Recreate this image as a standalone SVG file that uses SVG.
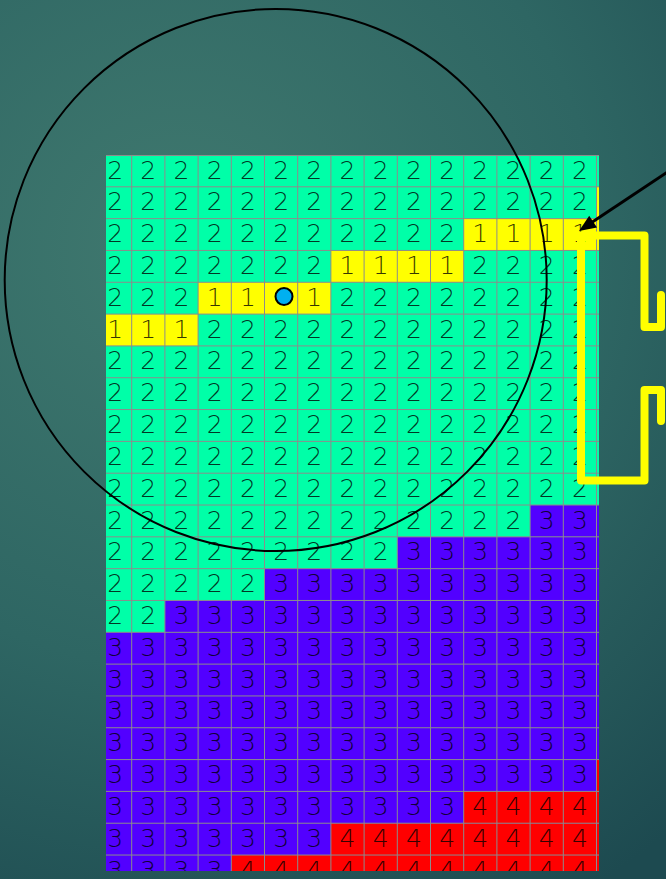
<svg xmlns="http://www.w3.org/2000/svg" width="666" height="879" viewBox="0 0 666 879">
<defs>
<radialGradient id="bg" cx="180" cy="250" r="760" gradientUnits="userSpaceOnUse">
<stop offset="0" stop-color="#40796f"/>
<stop offset="0.55" stop-color="#2e6663"/>
<stop offset="1" stop-color="#1d4a50"/>
</radialGradient>
<clipPath id="gc"><rect x="106" y="155" width="493" height="716"/></clipPath>
</defs>
<style>
.d{font-family:"DejaVu Sans ExtraLight","DejaVu Sans",sans-serif;font-weight:200;font-size:25px;text-anchor:middle;fill:#000;fill-opacity:.8}
.g{fill:#00ffa8}.y{fill:#ffff00}.b{fill:#5200ff}.r{fill:#ff0000}
.gl{stroke:#8c8c8c;stroke-width:1;fill:none}
</style>
<rect width="666" height="879" fill="url(#bg)"/>
<g id="grid" clip-path="url(#gc)">
<g id="fills">
<rect class="g" x="98" y="155" width="505" height="477.3"/>
<rect class="b" x="98" y="632.3" width="505" height="240"/>
<rect class="y" x="596.5" y="186.82" width="8" height="31.82"/>
<rect class="y" x="463.7" y="218.64" width="140" height="31.82"/>
<rect class="y" x="330.9" y="250.46" width="132.8" height="31.82"/>
<rect class="y" x="198.1" y="282.28" width="132.8" height="31.82"/>
<rect class="y" x="98" y="314.1" width="100.1" height="31.82"/>
<rect class="b" x="530.1" y="505.02" width="80" height="31.82"/>
<rect class="b" x="397.3" y="536.84" width="210" height="31.82"/>
<rect class="b" x="264.5" y="568.66" width="340" height="31.82"/>
<rect class="b" x="164.9" y="600.48" width="440" height="31.82"/>
<rect class="r" x="596.5" y="759.58" width="8" height="31.82"/>
<rect class="r" x="463.7" y="791.4" width="140" height="31.82"/>
<rect class="r" x="330.9" y="823.22" width="280" height="31.82"/>
<rect class="r" x="231.3" y="855.04" width="380" height="31.82"/>
</g>
<path id="gridlines" class="gl" d="M131.7 155V871M164.9 155V871M198.1 155V871M231.3 155V871M264.5 155V871M297.7 155V871M330.9 155V871M364.1 155V871M397.3 155V871M430.5 155V871M463.7 155V871M496.9 155V871M530.1 155V871M563.3 155V871M596.5 155V871M106 155.5H599M106 186.82H599M106 218.64H599M106 250.46H599M106 282.28H599M106 314.1H599M106 345.92H599M106 377.74H599M106 409.56H599M106 441.38H599M106 473.2H599M106 505.02H599M106 536.84H599M106 568.66H599M106 600.48H599M106 632.3H599M106 664.12H599M106 695.94H599M106 727.76H599M106 759.58H599M106 791.4H599M106 823.22H599M106 855.04H599"/>
<g id="r0" class="d"><text x="115.1" y="178.5">2</text><text x="148.3" y="178.5">2</text><text x="181.5" y="178.5">2</text><text x="214.7" y="178.5">2</text><text x="247.9" y="178.5">2</text><text x="281.1" y="178.5">2</text><text x="314.3" y="178.5">2</text><text x="347.5" y="178.5">2</text><text x="380.7" y="178.5">2</text><text x="413.9" y="178.5">2</text><text x="447.1" y="178.5">2</text><text x="480.3" y="178.5">2</text><text x="513.5" y="178.5">2</text><text x="546.7" y="178.5">2</text><text x="579.9" y="178.5">2</text></g>
<g id="r1" class="d"><text x="115.1" y="210.3">2</text><text x="148.3" y="210.3">2</text><text x="181.5" y="210.3">2</text><text x="214.7" y="210.3">2</text><text x="247.9" y="210.3">2</text><text x="281.1" y="210.3">2</text><text x="314.3" y="210.3">2</text><text x="347.5" y="210.3">2</text><text x="380.7" y="210.3">2</text><text x="413.9" y="210.3">2</text><text x="447.1" y="210.3">2</text><text x="480.3" y="210.3">2</text><text x="513.5" y="210.3">2</text><text x="546.7" y="210.3">2</text><text x="579.9" y="210.3">2</text></g>
<g id="r2" class="d"><text x="115.1" y="242.1">2</text><text x="148.3" y="242.1">2</text><text x="181.5" y="242.1">2</text><text x="214.7" y="242.1">2</text><text x="247.9" y="242.1">2</text><text x="281.1" y="242.1">2</text><text x="314.3" y="242.1">2</text><text x="347.5" y="242.1">2</text><text x="380.7" y="242.1">2</text><text x="413.9" y="242.1">2</text><text x="447.1" y="242.1">2</text><text x="480.3" y="242.1">1</text><text x="513.5" y="242.1">1</text><text x="546.7" y="242.1">1</text><text x="579.9" y="242.1">1</text></g>
<g id="r3" class="d"><text x="115.1" y="274">2</text><text x="148.3" y="274">2</text><text x="181.5" y="274">2</text><text x="214.7" y="274">2</text><text x="247.9" y="274">2</text><text x="281.1" y="274">2</text><text x="314.3" y="274">2</text><text x="347.5" y="274">1</text><text x="380.7" y="274">1</text><text x="413.9" y="274">1</text><text x="447.1" y="274">1</text><text x="480.3" y="274">2</text><text x="513.5" y="274">2</text><text x="546.7" y="274">2</text><text x="579.9" y="274">2</text></g>
<g id="r4" class="d"><text x="115.1" y="305.8">2</text><text x="148.3" y="305.8">2</text><text x="181.5" y="305.8">2</text><text x="214.7" y="305.8">1</text><text x="247.9" y="305.8">1</text><text x="314.3" y="305.8">1</text><text x="347.5" y="305.8">2</text><text x="380.7" y="305.8">2</text><text x="413.9" y="305.8">2</text><text x="447.1" y="305.8">2</text><text x="480.3" y="305.8">2</text><text x="513.5" y="305.8">2</text><text x="546.7" y="305.8">2</text><text x="579.9" y="305.8">2</text></g>
<g id="r5" class="d"><text x="115.1" y="337.6">1</text><text x="148.3" y="337.6">1</text><text x="181.5" y="337.6">1</text><text x="214.7" y="337.6">2</text><text x="247.9" y="337.6">2</text><text x="281.1" y="337.6">2</text><text x="314.3" y="337.6">2</text><text x="347.5" y="337.6">2</text><text x="380.7" y="337.6">2</text><text x="413.9" y="337.6">2</text><text x="447.1" y="337.6">2</text><text x="480.3" y="337.6">2</text><text x="513.5" y="337.6">2</text><text x="546.7" y="337.6">2</text><text x="579.9" y="337.6">2</text></g>
<g id="r6" class="d"><text x="115.1" y="369.4">2</text><text x="148.3" y="369.4">2</text><text x="181.5" y="369.4">2</text><text x="214.7" y="369.4">2</text><text x="247.9" y="369.4">2</text><text x="281.1" y="369.4">2</text><text x="314.3" y="369.4">2</text><text x="347.5" y="369.4">2</text><text x="380.7" y="369.4">2</text><text x="413.9" y="369.4">2</text><text x="447.1" y="369.4">2</text><text x="480.3" y="369.4">2</text><text x="513.5" y="369.4">2</text><text x="546.7" y="369.4">2</text><text x="579.9" y="369.4">2</text></g>
<g id="r7" class="d"><text x="115.1" y="401.2">2</text><text x="148.3" y="401.2">2</text><text x="181.5" y="401.2">2</text><text x="214.7" y="401.2">2</text><text x="247.9" y="401.2">2</text><text x="281.1" y="401.2">2</text><text x="314.3" y="401.2">2</text><text x="347.5" y="401.2">2</text><text x="380.7" y="401.2">2</text><text x="413.9" y="401.2">2</text><text x="447.1" y="401.2">2</text><text x="480.3" y="401.2">2</text><text x="513.5" y="401.2">2</text><text x="546.7" y="401.2">2</text><text x="579.9" y="401.2">2</text></g>
<g id="r8" class="d"><text x="115.1" y="433.1">2</text><text x="148.3" y="433.1">2</text><text x="181.5" y="433.1">2</text><text x="214.7" y="433.1">2</text><text x="247.9" y="433.1">2</text><text x="281.1" y="433.1">2</text><text x="314.3" y="433.1">2</text><text x="347.5" y="433.1">2</text><text x="380.7" y="433.1">2</text><text x="413.9" y="433.1">2</text><text x="447.1" y="433.1">2</text><text x="480.3" y="433.1">2</text><text x="513.5" y="433.1">2</text><text x="546.7" y="433.1">2</text><text x="579.9" y="433.1">2</text></g>
<g id="r9" class="d"><text x="115.1" y="464.9">2</text><text x="148.3" y="464.9">2</text><text x="181.5" y="464.9">2</text><text x="214.7" y="464.9">2</text><text x="247.9" y="464.9">2</text><text x="281.1" y="464.9">2</text><text x="314.3" y="464.9">2</text><text x="347.5" y="464.9">2</text><text x="380.7" y="464.9">2</text><text x="413.9" y="464.9">2</text><text x="447.1" y="464.9">2</text><text x="480.3" y="464.9">2</text><text x="513.5" y="464.9">2</text><text x="546.7" y="464.9">2</text><text x="579.9" y="464.9">2</text></g>
<g id="r10" class="d"><text x="115.1" y="496.7">2</text><text x="148.3" y="496.7">2</text><text x="181.5" y="496.7">2</text><text x="214.7" y="496.7">2</text><text x="247.9" y="496.7">2</text><text x="281.1" y="496.7">2</text><text x="314.3" y="496.7">2</text><text x="347.5" y="496.7">2</text><text x="380.7" y="496.7">2</text><text x="413.9" y="496.7">2</text><text x="447.1" y="496.7">2</text><text x="480.3" y="496.7">2</text><text x="513.5" y="496.7">2</text><text x="546.7" y="496.7">2</text><text x="579.9" y="496.7">2</text></g>
<g id="r11" class="d"><text x="115.1" y="528.5">2</text><text x="148.3" y="528.5">2</text><text x="181.5" y="528.5">2</text><text x="214.7" y="528.5">2</text><text x="247.9" y="528.5">2</text><text x="281.1" y="528.5">2</text><text x="314.3" y="528.5">2</text><text x="347.5" y="528.5">2</text><text x="380.7" y="528.5">2</text><text x="413.9" y="528.5">2</text><text x="447.1" y="528.5">2</text><text x="480.3" y="528.5">2</text><text x="513.5" y="528.5">2</text><text x="546.7" y="528.5">3</text><text x="579.9" y="528.5">3</text></g>
<g id="r12" class="d"><text x="115.1" y="560.3">2</text><text x="148.3" y="560.3">2</text><text x="181.5" y="560.3">2</text><text x="214.7" y="560.3">2</text><text x="247.9" y="560.3">2</text><text x="281.1" y="560.3">2</text><text x="314.3" y="560.3">2</text><text x="347.5" y="560.3">2</text><text x="380.7" y="560.3">2</text><text x="413.9" y="560.3">3</text><text x="447.1" y="560.3">3</text><text x="480.3" y="560.3">3</text><text x="513.5" y="560.3">3</text><text x="546.7" y="560.3">3</text><text x="579.9" y="560.3">3</text></g>
<g id="r13" class="d"><text x="115.1" y="592.2">2</text><text x="148.3" y="592.2">2</text><text x="181.5" y="592.2">2</text><text x="214.7" y="592.2">2</text><text x="247.9" y="592.2">2</text><text x="281.1" y="592.2">3</text><text x="314.3" y="592.2">3</text><text x="347.5" y="592.2">3</text><text x="380.7" y="592.2">3</text><text x="413.9" y="592.2">3</text><text x="447.1" y="592.2">3</text><text x="480.3" y="592.2">3</text><text x="513.5" y="592.2">3</text><text x="546.7" y="592.2">3</text><text x="579.9" y="592.2">3</text></g>
<g id="r14" class="d"><text x="115.1" y="624">2</text><text x="148.3" y="624">2</text><text x="181.5" y="624">3</text><text x="214.7" y="624">3</text><text x="247.9" y="624">3</text><text x="281.1" y="624">3</text><text x="314.3" y="624">3</text><text x="347.5" y="624">3</text><text x="380.7" y="624">3</text><text x="413.9" y="624">3</text><text x="447.1" y="624">3</text><text x="480.3" y="624">3</text><text x="513.5" y="624">3</text><text x="546.7" y="624">3</text><text x="579.9" y="624">3</text></g>
<g id="r15" class="d"><text x="115.1" y="655.8">3</text><text x="148.3" y="655.8">3</text><text x="181.5" y="655.8">3</text><text x="214.7" y="655.8">3</text><text x="247.9" y="655.8">3</text><text x="281.1" y="655.8">3</text><text x="314.3" y="655.8">3</text><text x="347.5" y="655.8">3</text><text x="380.7" y="655.8">3</text><text x="413.9" y="655.8">3</text><text x="447.1" y="655.8">3</text><text x="480.3" y="655.8">3</text><text x="513.5" y="655.8">3</text><text x="546.7" y="655.8">3</text><text x="579.9" y="655.8">3</text></g>
<g id="r16" class="d"><text x="115.1" y="687.6">3</text><text x="148.3" y="687.6">3</text><text x="181.5" y="687.6">3</text><text x="214.7" y="687.6">3</text><text x="247.9" y="687.6">3</text><text x="281.1" y="687.6">3</text><text x="314.3" y="687.6">3</text><text x="347.5" y="687.6">3</text><text x="380.7" y="687.6">3</text><text x="413.9" y="687.6">3</text><text x="447.1" y="687.6">3</text><text x="480.3" y="687.6">3</text><text x="513.5" y="687.6">3</text><text x="546.7" y="687.6">3</text><text x="579.9" y="687.6">3</text></g>
<g id="r17" class="d"><text x="115.1" y="719.4">3</text><text x="148.3" y="719.4">3</text><text x="181.5" y="719.4">3</text><text x="214.7" y="719.4">3</text><text x="247.9" y="719.4">3</text><text x="281.1" y="719.4">3</text><text x="314.3" y="719.4">3</text><text x="347.5" y="719.4">3</text><text x="380.7" y="719.4">3</text><text x="413.9" y="719.4">3</text><text x="447.1" y="719.4">3</text><text x="480.3" y="719.4">3</text><text x="513.5" y="719.4">3</text><text x="546.7" y="719.4">3</text><text x="579.9" y="719.4">3</text></g>
<g id="r18" class="d"><text x="115.1" y="751.3">3</text><text x="148.3" y="751.3">3</text><text x="181.5" y="751.3">3</text><text x="214.7" y="751.3">3</text><text x="247.9" y="751.3">3</text><text x="281.1" y="751.3">3</text><text x="314.3" y="751.3">3</text><text x="347.5" y="751.3">3</text><text x="380.7" y="751.3">3</text><text x="413.9" y="751.3">3</text><text x="447.1" y="751.3">3</text><text x="480.3" y="751.3">3</text><text x="513.5" y="751.3">3</text><text x="546.7" y="751.3">3</text><text x="579.9" y="751.3">3</text></g>
<g id="r19" class="d"><text x="115.1" y="783.1">3</text><text x="148.3" y="783.1">3</text><text x="181.5" y="783.1">3</text><text x="214.7" y="783.1">3</text><text x="247.9" y="783.1">3</text><text x="281.1" y="783.1">3</text><text x="314.3" y="783.1">3</text><text x="347.5" y="783.1">3</text><text x="380.7" y="783.1">3</text><text x="413.9" y="783.1">3</text><text x="447.1" y="783.1">3</text><text x="480.3" y="783.1">3</text><text x="513.5" y="783.1">3</text><text x="546.7" y="783.1">3</text><text x="579.9" y="783.1">3</text></g>
<g id="r20" class="d"><text x="115.1" y="814.9">3</text><text x="148.3" y="814.9">3</text><text x="181.5" y="814.9">3</text><text x="214.7" y="814.9">3</text><text x="247.9" y="814.9">3</text><text x="281.1" y="814.9">3</text><text x="314.3" y="814.9">3</text><text x="347.5" y="814.9">3</text><text x="380.7" y="814.9">3</text><text x="413.9" y="814.9">3</text><text x="447.1" y="814.9">3</text><text x="480.3" y="814.9">4</text><text x="513.5" y="814.9">4</text><text x="546.7" y="814.9">4</text><text x="579.9" y="814.9">4</text></g>
<g id="r21" class="d"><text x="115.1" y="846.7">3</text><text x="148.3" y="846.7">3</text><text x="181.5" y="846.7">3</text><text x="214.7" y="846.7">3</text><text x="247.9" y="846.7">3</text><text x="281.1" y="846.7">3</text><text x="314.3" y="846.7">3</text><text x="347.5" y="846.7">4</text><text x="380.7" y="846.7">4</text><text x="413.9" y="846.7">4</text><text x="447.1" y="846.7">4</text><text x="480.3" y="846.7">4</text><text x="513.5" y="846.7">4</text><text x="546.7" y="846.7">4</text><text x="579.9" y="846.7">4</text></g>
<g id="r22" class="d"><text x="115.1" y="878.5">3</text><text x="148.3" y="878.5">3</text><text x="181.5" y="878.5">3</text><text x="214.7" y="878.5">3</text><text x="247.9" y="878.5">4</text><text x="281.1" y="878.5">4</text><text x="314.3" y="878.5">4</text><text x="347.5" y="878.5">4</text><text x="380.7" y="878.5">4</text><text x="413.9" y="878.5">4</text><text x="447.1" y="878.5">4</text><text x="480.3" y="878.5">4</text><text x="513.5" y="878.5">4</text><text x="546.7" y="878.5">4</text><text x="579.9" y="878.5">4</text></g>
</g>
<g id="connectors">
<circle id="range-circle" cx="275.7" cy="280" r="271" fill="none" stroke="#000" stroke-width="2"/>
<path id="bracket" d="M661 295V327H644.5V235.5H581V480.5H644.5V390H661V421" fill="none" stroke="#ffff00" stroke-width="8" stroke-linejoin="round" stroke-linecap="round"/>
<g id="arrow">
<line x1="700" y1="150.3" x2="592" y2="222.3" stroke="#000" stroke-width="3"/>
<polygon points="579,231 589.2,215.8 597,227.4" fill="#000"/>
</g>
</g>
<g id="agent">
<circle cx="284" cy="296.5" r="8.5" fill="#00b0f0" stroke="#000" stroke-width="2"/>
</g>
</svg>
